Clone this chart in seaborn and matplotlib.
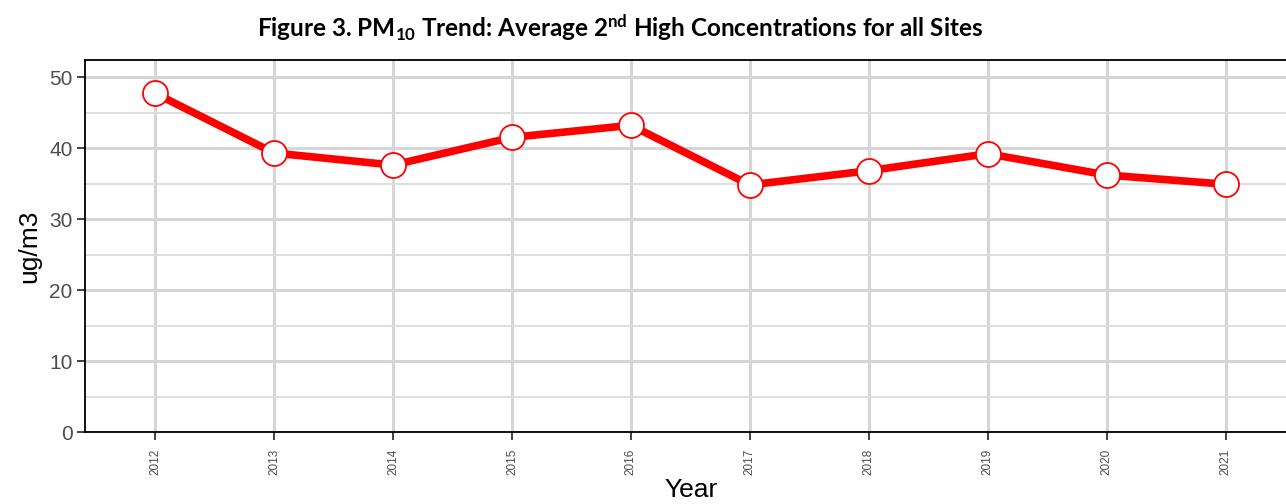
import matplotlib
matplotlib.use("Agg")
import matplotlib.pyplot as plt
import seaborn as sns
import pandas as pd
from matplotlib.ticker import MultipleLocator

years = ["2012", "2013", "2014", "2015", "2016", "2017", "2018", "2019", "2020", "2021"]
pm10 = [47.7, 39.3, 37.6, 41.5, 43.2, 34.8, 36.8, 39.2, 36.2, 34.9]

df = pd.DataFrame({"Year": years, "ugm3": pm10})

sns.set_style("white")
plt.rcParams["font.family"] = ["Liberation Sans", "DejaVu Sans"]
plt.rcParams["mathtext.fontset"] = "custom"
plt.rcParams["mathtext.rm"] = "Lato:bold"
plt.rcParams["mathtext.default"] = "rm"

fig = plt.figure(figsize=(12.86, 5.04), dpi=100)
ax = fig.add_axes([85 / 1286, 1 - 432 / 504, 1212 / 1286, 372 / 504])

sns.lineplot(data=df, x="Year", y="ugm3", ax=ax, color="#FF0000", linewidth=5.5,
             marker="o", markersize=18, markerfacecolor="white",
             markeredgecolor="#FF0000", markeredgewidth=1.3, sort=False)

ax.set_xlim(-0.59, 9.6)
ax.set_ylim(0, 52.4)
ax.yaxis.set_major_locator(MultipleLocator(10))
ax.yaxis.set_minor_locator(MultipleLocator(5))
ax.grid(which="major", color="#D6D6D6", linewidth=2.2)
ax.grid(which="minor", axis="y", color="#DEDEDE", linewidth=1.4)
ax.set_axisbelow(True)

for s in ax.spines.values():
    s.set_color("black")
    s.set_linewidth(1.3)

ax.tick_params(axis="y", which="major", length=6, width=1.3, color="#333333",
               labelsize=15, labelcolor="#4D4D4D", left=True, pad=3)
ax.tick_params(axis="y", which="minor", length=0)
ax.tick_params(axis="x", length=6, width=1.3, color="#333333", labelsize=8.5,
               labelcolor="#4D4D4D", bottom=True, rotation=90, pad=6)

ax.set_xlabel("Year", fontsize=19, labelpad=2, color="black")
ax.set_ylabel("ug/m3", fontsize=19, labelpad=6, color="black")

fig.text(0.482, 0.944, r"Figure 3. PM$_{10}$ Trend: Average 2$^{nd}$ High Concentrations for all Sites",
         ha="center", va="center", fontsize=17.5, fontweight="bold", family="Lato",
         color="black")

fig.savefig("out.png", dpi=100)
